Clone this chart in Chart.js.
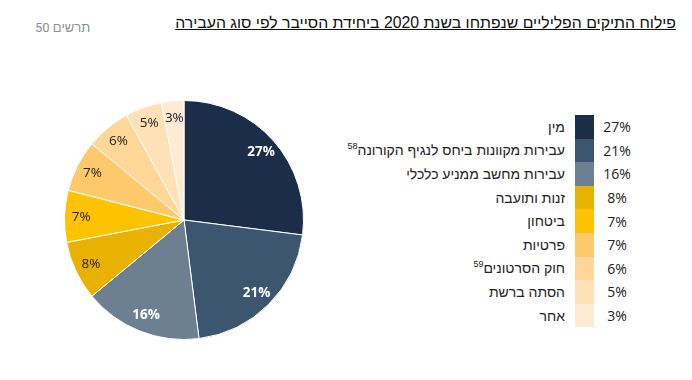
<!DOCTYPE html>
<html lang="he">
<head>
<meta charset="utf-8">
<script src="https://cdn.jsdelivr.net/npm/chart.js@4/dist/chart.umd.min.js"></script>
<style>
  body { margin: 0; background: #fff; width: 692px; height: 380px; position: relative; overflow: hidden; font-family: "Liberation Sans", Arial, sans-serif; }
  #title { position: absolute; right: 16px; top: 14px; direction: rtl; font-size: 15.8px; color: #111; text-decoration: underline; white-space: nowrap; }
  #fig { position: absolute; left: 35px; top: 20px; direction: rtl; font-size: 13px; color: #8a8f96; font-family: Roboto, sans-serif; }
  #pie-wrap { position: absolute; left: 64px; top: 100px; width: 240px; height: 240px; }
  #legend { position: absolute; left: 330px; top: 115px; width: 330px; }
  .row { display: flex; height: 23.6px; align-items: center; }
  .lab { width: 245px; text-align: right; direction: rtl; font-size: 14px; color: #222; padding-right: 10px; box-sizing: border-box; white-space: nowrap; }
  .lab sup { font-size: 9px; vertical-align: 6px; line-height: 0; }
  .sw { width: 19px; height: 100%; }
  .pct { width: 46px; text-align: center; font-size: 14px; color: #222; font-family: "Open Sans", sans-serif; }
</style>
</head>
<body>
<div id="title">פילוח התיקים הפליליים שנפתחו בשנת 2020 ביחידת הסייבר לפי סוג העבירה</div>
<div id="fig">תרשים 50</div>
<div id="pie-wrap"><canvas id="pie"></canvas></div>
<div id="legend"></div>
<script>
"use strict";

// Data
var categories = ["מין", "עבירות מקוונות ביחס לנגיף הקורונה", "עבירות מחשב ממניע כלכלי", "זנות ותועבה", "ביטחון", "פרטיות", "חוק הסרטונים", "הסתה ברשת", "אחר"];
var footnotes = ["", "58", "", "", "", "", "59", "", ""];
var shares = [27, 21, 16, 8, 7, 7, 6, 5, 3];
var colors = ["#1c2d4a", "#3b566e", "#6d8091", "#e9b200", "#fdc300", "#fdc96c", "#fed698", "#fee1b6", "#feead2"];
var labelColors = ["#fff", "#fff", "#fff", "#222", "#222", "#222", "#222", "#222", "#222"];

// Legend
var legendElem = document.getElementById("legend");
categories.forEach(function (name, i) {
    var row = document.createElement("div");
    row.className = "row";
    var lab = document.createElement("div");
    lab.className = "lab";
    lab.textContent = name;
    if (footnotes[i]) {
        var sup = document.createElement("sup");
        sup.textContent = footnotes[i];
        lab.appendChild(sup);
    }
    var sw = document.createElement("div");
    sw.className = "sw";
    sw.style.background = colors[i];
    var pct = document.createElement("div");
    pct.className = "pct";
    pct.textContent = shares[i] + "%";
    row.appendChild(lab);
    row.appendChild(sw);
    row.appendChild(pct);
    legendElem.appendChild(row);
});

// Slice labels
var sliceLabels = {
    id: "sliceLabels",
    afterDatasetsDraw: function (chart) {
        var ctx = chart.ctx;
        var meta = chart.getDatasetMeta(0);
        ctx.save();
        ctx.textAlign = "center";
        ctx.textBaseline = "middle";
        meta.data.forEach(function (arc, i) {
            var mid = (arc.startAngle + arc.endAngle) / 2;
            var r = arc.outerRadius * 0.86;
            var white = labelColors[i] === "#fff";
            ctx.font = (white ? "bold " : "") + "13.5px 'Open Sans', sans-serif";
            ctx.fillStyle = labelColors[i];
            ctx.fillText(shares[i] + "%", arc.x + Math.cos(mid) * r, arc.y + Math.sin(mid) * r);
        });
        ctx.restore();
    }
};

new Chart(document.getElementById("pie"), {
    type: "pie",
    data: {
        labels: categories,
        datasets: [{
            data: shares,
            backgroundColor: colors,
            borderColor: "#fff",
            borderWidth: 1,
            hoverOffset: 0
        }]
    },
    options: {
        responsive: true,
        maintainAspectRatio: false,
        animation: false,
        layout: { padding: 0 },
        plugins: {
            legend: { display: false },
            tooltip: { enabled: false }
        }
    },
    plugins: [sliceLabels]
});
</script>
</body>
</html>
